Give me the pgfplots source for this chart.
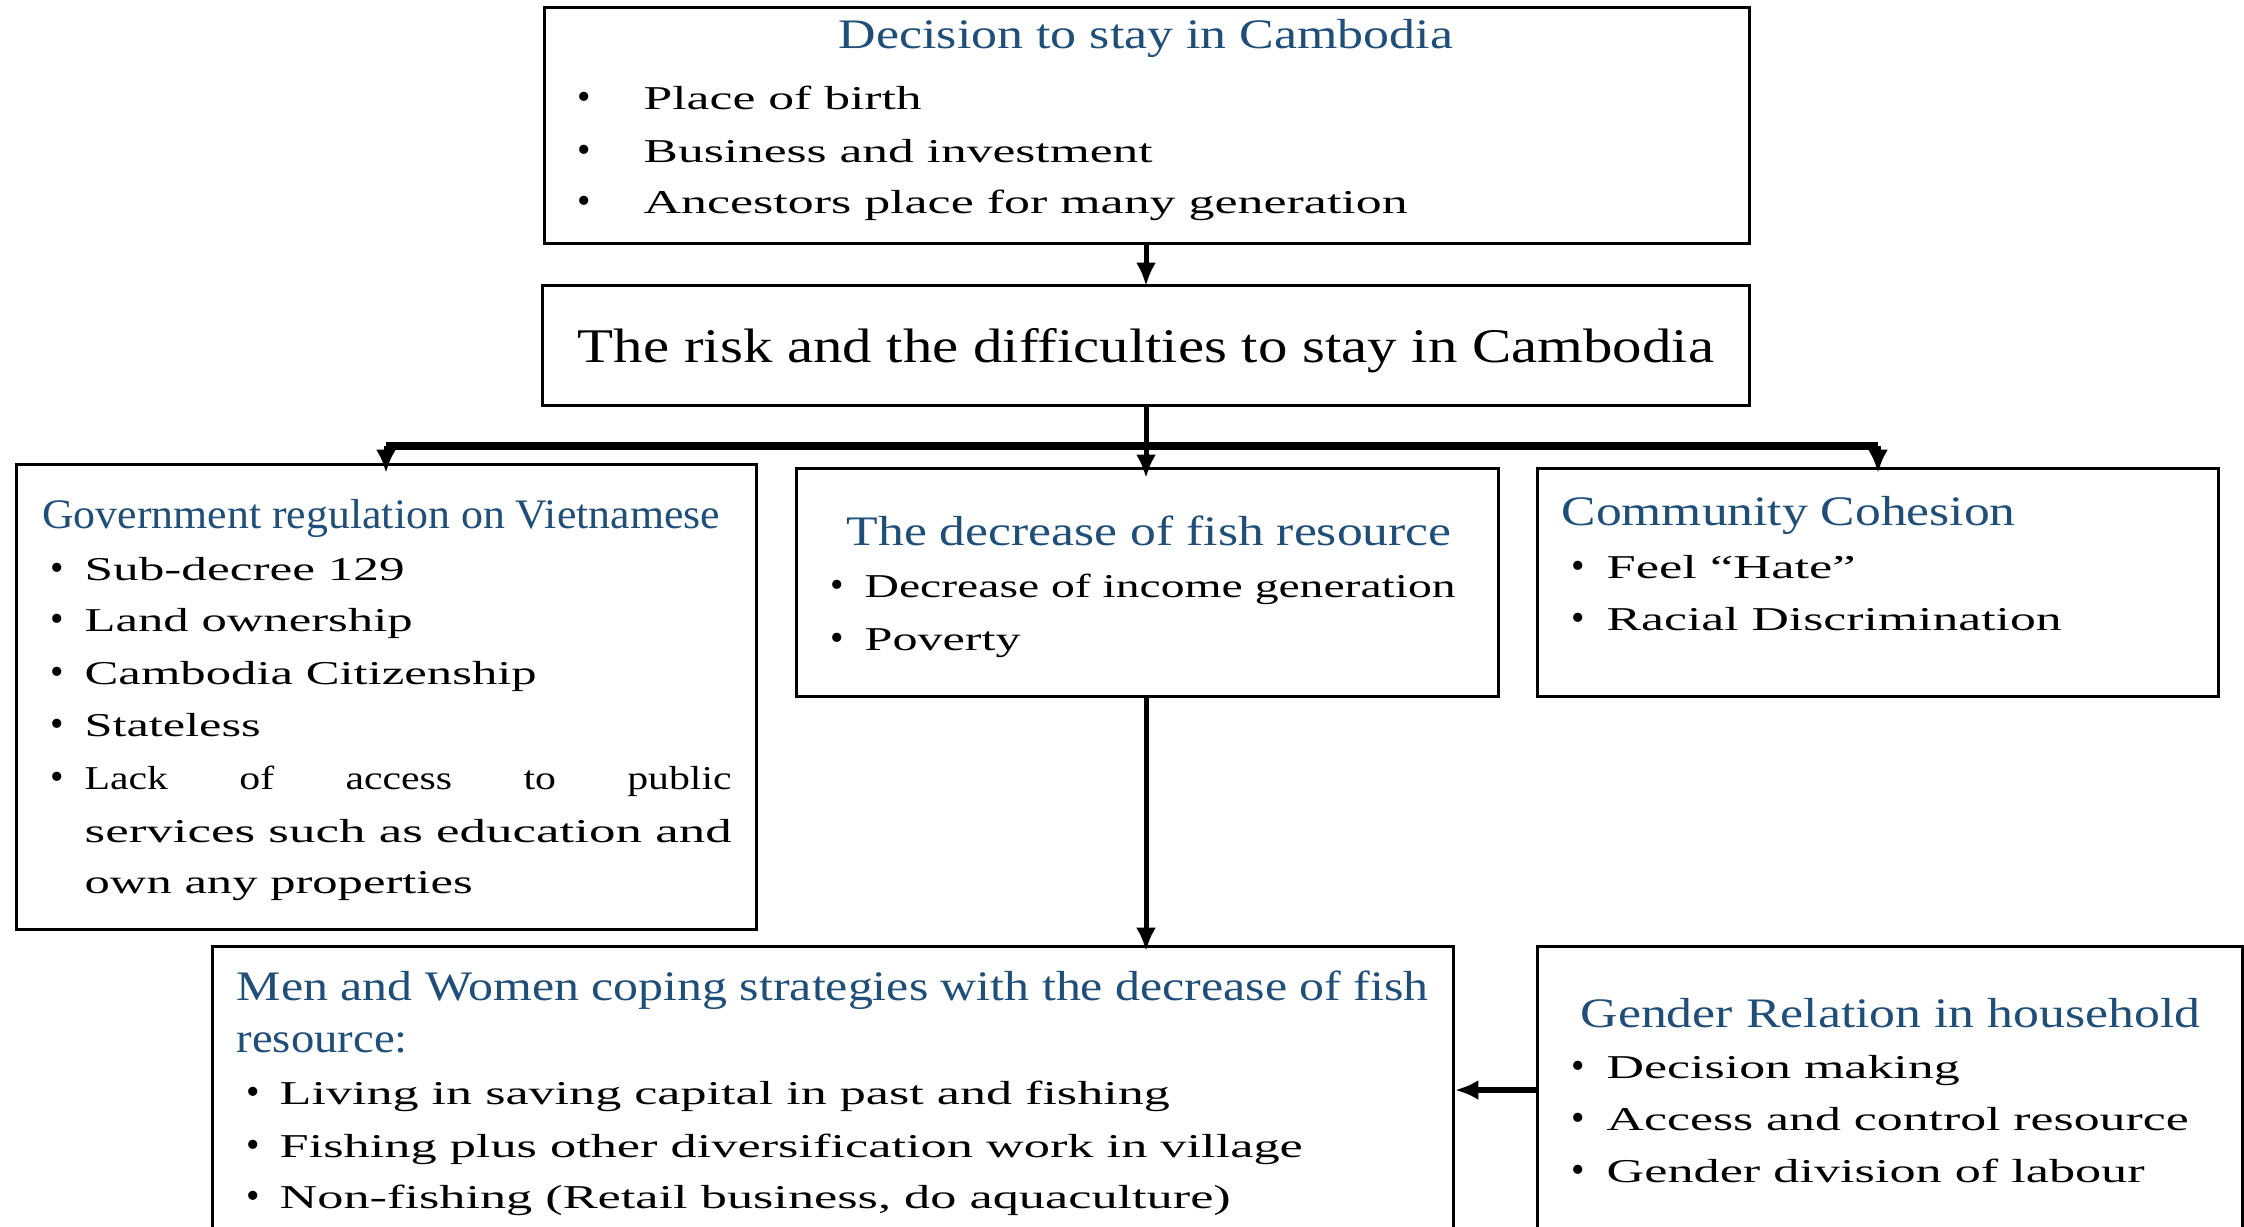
\documentclass[border=0pt]{standalone}
\usepackage{pgfplots}
\pgfplotsset{compat=1.18}
\usepackage{fontspec}
\setmainfont{Liberation Serif}
\usetikzlibrary{arrows.meta}
\definecolor{ttl}{RGB}{31,78,121}
% left-aligned line stretched to a given width (pt), keeping its natural height
\newcommand\tline[4]{\node[anchor=base west,inner sep=0pt] at (#1,#2) {\resizebox{#3pt}{\height}{#4}};}
\newcommand\ctline[4]{\node[anchor=base,inner sep=0pt] at (#1,#2) {\resizebox{#3pt}{\height}{#4}};}
\newcommand\bul[2]{\node[anchor=base west,inner sep=0pt] at (#1,#2) {\scalebox{1.15}{•}};}
\begin{document}
\begin{tikzpicture}
\begin{axis}[width=673.2pt,height=367.8pt,scale only axis,
  xmin=0,xmax=2244,ymin=0,ymax=1226,y dir=reverse,hide axis,clip=false,
  every node/.append style={font=\fontsize{13}{15}\selectfont}]
% ---------- boxes ----------
\draw[line width=0.9pt] (544,7) rectangle (1749,243);
\draw[line width=0.9pt] (542,285) rectangle (1749,405);
\draw[line width=0.9pt] (16,464) rectangle (756,929);
\draw[line width=0.9pt] (796,468) rectangle (1498,696);
\draw[line width=0.9pt] (1537,468) rectangle (2218,696);
\draw[line width=0.9pt] (212,1240) -- (212,946) -- (1453,946) -- (1453,1240);
\draw[line width=0.9pt] (1537,1240) -- (1537,946) -- (2242,946) -- (2242,1240);
% ---------- arrows ----------
\draw[line width=1.5pt,-{Latex[length=7pt,width=6pt]}] (1146,243) -- (1146,286);
\draw[line width=1.5pt] (1146,405) -- (1146,446);
\draw[line width=2.2pt] (386,446) -- (1878,446);
\draw[line width=1.5pt,-{Latex[length=7pt,width=6pt]}] (386,446) -- (386,473);
\draw[line width=1.5pt,-{Latex[length=7pt,width=6pt]}] (1146,446) -- (1146,478);
\draw[line width=1.5pt,-{Latex[length=7pt,width=6pt]}] (1878,446) -- (1878,473);
\draw[line width=1.5pt,-{Latex[length=7pt,width=6pt]}] (1146,696) -- (1146,951);
\draw[line width=1.8pt,-{Latex[length=7pt,width=6pt]}] (1537,1090) -- (1455,1090);
% ---------- top box ----------
\begin{scope}[every node/.append style={text=ttl,font=\fontsize{12.6}{15}\selectfont}]
\ctline{1146}{48}{184.2}{Decision to stay in Cambodia}
\end{scope}
\bul{577}{109}\tline{643}{109}{83.4}{Place of birth}
\bul{577}{162}\tline{643}{162}{152.7}{Business and investment}
\bul{577}{213}\tline{643}{213}{229.2}{Ancestors place for many generation}
% ---------- risk box ----------
\begin{scope}[every node/.append style={font=\fontsize{14.5}{17}\selectfont}]
\ctline{1146}{362}{340.8}{The risk and the difficulties to stay in Cambodia}
\end{scope}
% ---------- government box ----------
\begin{scope}[every node/.append style={text=ttl,font=\fontsize{12.6}{15}\selectfont}]
\tline{41.5}{528}{203.4}{Government regulation on Vietnamese}
\end{scope}
\bul{50}{580}\tline{84}{580}{96}{Sub-decree 129}
\bul{50}{631}\tline{84}{631}{98.4}{Land ownership}
\bul{50}{684}\tline{84}{684}{135.6}{Cambodia Citizenship}
\bul{50}{736}\tline{84}{736}{52.8}{Stateless}
\bul{50}{789}
\tline{84}{789}{194.1}{\makebox[155pt][s]{Lack of access to public}}
\tline{84}{842}{194.1}{services such as education and}
\tline{84}{893}{116.4}{own any properties}
% ---------- fish box ----------
\begin{scope}[every node/.append style={text=ttl,font=\fontsize{12.6}{15}\selectfont}]
\tline{846}{545}{181.5}{The decrease of fish resource}
\end{scope}
\bul{830}{597}\tline{864}{597}{177.3}{Decrease of income generation}
\bul{830}{650}\tline{864}{650}{46.8}{Poverty}
% ---------- community box ----------
\begin{scope}[every node/.append style={text=ttl,font=\fontsize{12.6}{15}\selectfont}]
\tline{1561}{525}{136.2}{Community Cohesion}
\end{scope}
\bul{1571}{578}\tline{1606}{578}{74.7}{Feel “Hate”}
\bul{1571}{630}\tline{1606}{630}{136.5}{Racial Discrimination}
% ---------- men and women box ----------
\begin{scope}[every node/.append style={text=ttl,font=\fontsize{12.6}{15}\selectfont}]
\tline{236}{1000}{357.6}{Men and Women coping strategies with the decrease of fish}
\tline{236}{1052}{51.3}{resource:}
\end{scope}
\bul{246}{1104}\tline{279}{1104}{267}{Living in saving capital in past and fishing}
\bul{246}{1157}\tline{279}{1157}{306.9}{Fishing plus other diversification work in village}
\bul{246}{1208}\tline{279}{1208}{285.3}{Non-fishing (Retail business, do aquaculture)}
% ---------- gender box ----------
\begin{scope}[every node/.append style={text=ttl,font=\fontsize{12.6}{15}\selectfont}]
\tline{1580}{1027}{186}{Gender Relation in household}
\end{scope}
\bul{1571}{1078}\tline{1606}{1078}{105.9}{Decision making}
\bul{1571}{1130}\tline{1606}{1130}{174.6}{Access and control resource}
\bul{1571}{1182}\tline{1606}{1182}{161.4}{Gender division of labour}
\end{axis}
\pgfresetboundingbox
\path (current axis.south west) rectangle (current axis.north east);
\end{tikzpicture}
\end{document}
